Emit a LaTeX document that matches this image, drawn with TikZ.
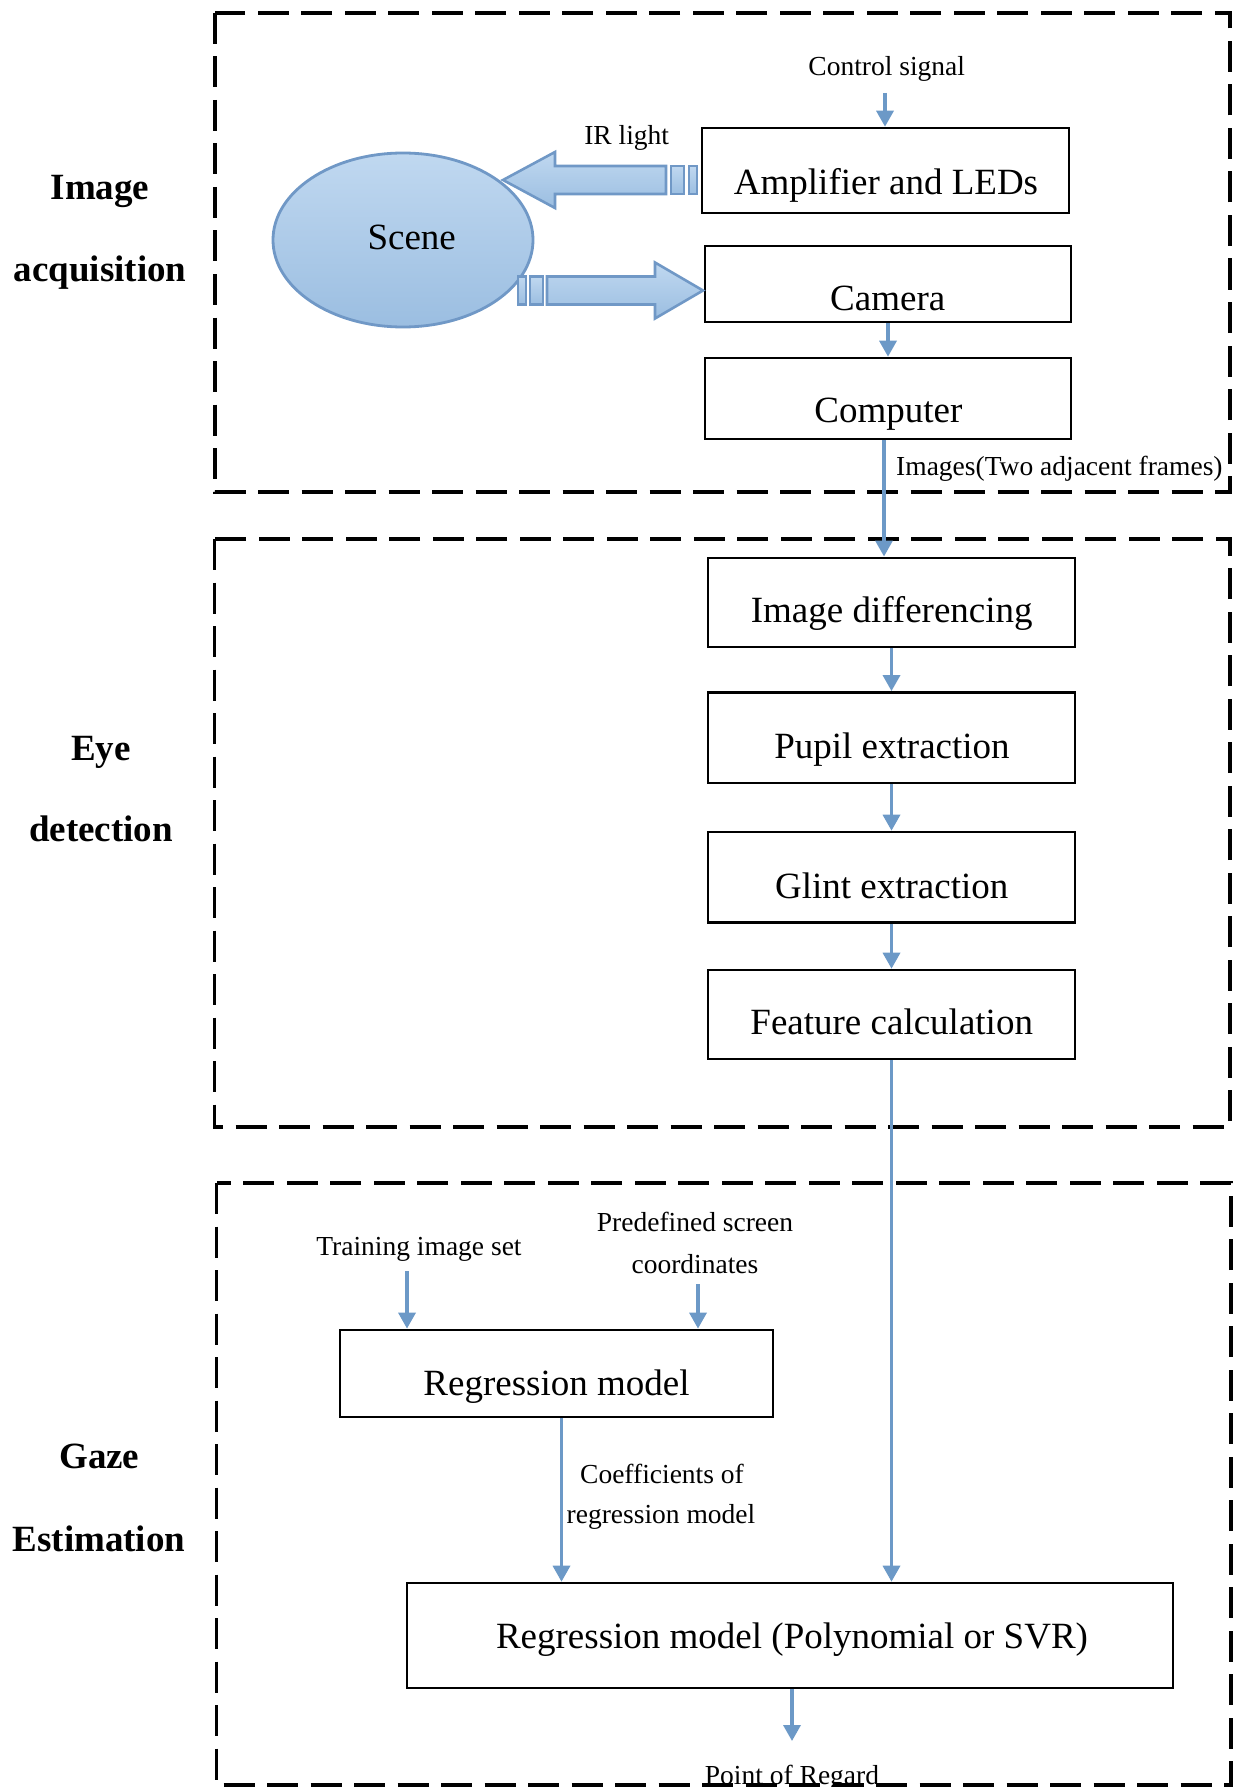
\documentclass[tikz,border=0pt]{standalone}
\usepackage{fontspec}
\setmainfont{Liberation Serif}
\usetikzlibrary{arrows.meta,shapes.geometric}
\definecolor{lineblue}{RGB}{108,153,199}
\definecolor{edgeblue}{RGB}{112,152,198}
\definecolor{filltop}{RGB}{192,216,240}
\definecolor{fillbot}{RGB}{155,190,225}
\tikzset{
  frame/.style={draw=black, line width=3.8pt, dash pattern=on 31pt off 12.5pt},
  procbox/.style={draw=black, line width=2.6pt, inner sep=0pt, fill=white},
  btxt/.style={font=\fontsize{37}{44}\selectfont, anchor=base, inner sep=0pt},
  stxt/.style={font=\fontsize{27.5}{33}\selectfont, anchor=base, inner sep=0pt},
  sec/.style={font=\fontsize{37}{44}\selectfont\bfseries, anchor=base, inner sep=0pt},
  conn/.style={draw=lineblue, line width=3.4pt, -{Triangle[width=17pt,length=16pt]}},
  blockarrow/.style={draw=edgeblue, line width=2.6pt, top color=filltop, bottom color=fillbot, line join=miter},
}
\begin{document}
\begin{tikzpicture}[x=1pt,y=-1pt]
\useasboundingbox (0,0) rectangle (1239,1787);
\fill[white] (0,0) rectangle (1239,1787);

% section frames
\draw[frame] (215,13) rectangle (1230,492);
\draw[frame] (214.5,539) rectangle (1230,1127);
\draw[frame] (216.5,1183) rectangle (1231,1785);

% section labels
\node[sec] (s1a) at (100,199.3) {Image};
\node[sec] (s1b) at (100,281.7) {acquisition};
\node[sec] (s2a) at (101,760) {Eye};
\node[sec] (s2b) at (101,841.7) {detection};
\node[sec] (s3a) at (99.3,1468.3) {Gaze};
\node[sec] (s3b) at (99,1551.7) {Estimation};

% scene
\node[ellipse, draw=edgeblue, line width=2.8pt, top color=filltop, bottom color=fillbot,
      minimum width=260pt, minimum height=174pt, inner sep=0pt] (scene) at (403,240) {};
\node[btxt] (sceneT) at (411.7,250) {Scene};

% boxes
\node[procbox, minimum width=367pt, minimum height=85pt] (amp) at (885.5,170.5) {};
\node[procbox, minimum width=366pt, minimum height=76pt] (cam) at (888,284) {};
\node[procbox, minimum width=366pt, minimum height=81pt] (comp) at (888,398.5) {};
\node[procbox, minimum width=367pt, minimum height=89pt] (diff) at (891.5,602.3) {};
\node[procbox, minimum width=367pt, minimum height=90.6pt] (pupil) at (891.5,737.7) {};
\node[procbox, minimum width=367pt, minimum height=90.5pt] (glint) at (891.5,877.25) {};
\node[procbox, minimum width=367pt, minimum height=89pt] (feat) at (891.5,1014.5) {};
\node[procbox, minimum width=433pt, minimum height=87pt] (reg) at (556.5,1373.4) {};
\node[procbox, minimum width=766pt, minimum height=105pt] (final) at (790,1635.5) {};

\node[btxt] (ampT) at (886,195) {Amplifier and LEDs};
\node[btxt] (camT) at (887.7,310) {Camera};
\node[btxt] (compT) at (888.3,422) {Computer};
\node[btxt] (diffT) at (891.7,622.8) {Image differencing};
\node[btxt] (pupilT) at (892,758.8) {Pupil extraction};
\node[btxt] (glintT) at (891.7,898.5) {Glint extraction};
\node[btxt] (featT) at (891.7,1034.5) {Feature calculation};
\node[btxt] (regT) at (556.5,1395) {Regression model};
\node[btxt] (finalT) at (792,1648) {Regression model (Polynomial or SVR)};

% block arrows
\path[blockarrow] (503,180) -- (555,152) -- (555,166) -- (666,166) -- (666,194) -- (555,194) -- (555,208) -- cycle;
\path[blockarrow] (671,166) rectangle (684,194);
\path[blockarrow] (689,166) rectangle (697,194);
\path[blockarrow] (703,290.5) -- (655,262.5) -- (655,276.5) -- (547,276.5) -- (547,304.5) -- (655,304.5) -- (655,318.5) -- cycle;
\path[blockarrow] (530,276.5) rectangle (543,304.5);
\path[blockarrow] (518,276.5) rectangle (526,304.5);

% small labels
\node[stxt] (ctlT) at (886.7,76) {Control signal};
\node[stxt] (irT) at (626.7,145) {IR light};
\node[stxt, anchor=base west] (imgT) at (896,475.6) {Images(Two adjacent frames)};
\node[stxt] (trainT) at (419,1255) {Training image set};
\node[stxt] (predT1) at (695,1231.7) {Predefined screen};
\node[stxt] (predT2) at (695,1273.3) {coordinates};
\node[stxt] (coefT1) at (662,1483.3) {Coefficients of};
\node[stxt] (coefT2) at (661,1523.3) {regression model};
\node[stxt] (porT) at (792,1784) {Point of Regard};

% free ends
\coordinate (ctl) at (885,93);
\coordinate (train) at (407,1271);
\coordinate (pred) at (698,1284);
\coordinate (out) at (792,1741);

% connectors
\draw[conn] (ctl) -- (ctl |- amp.north);
\draw[conn] (cam.south) -- (comp.north);
\draw[conn] ([xshift=-4pt]comp.south) -- ([xshift=-4pt]comp.south |- diff.north);
\draw[conn] (diff.south) -- (pupil.north);
\draw[conn] (pupil.south) -- (glint.north);
\draw[conn] (glint.south) -- (feat.north);
\draw[conn] (feat.south) -- (feat.south |- final.north);
\draw[conn] (train) -- (train |- reg.north);
\draw[conn] (pred) -- (pred |- reg.north);
\draw[conn] ([xshift=5pt]reg.south) -- ([xshift=5pt]reg.south |- final.north);
\draw[conn] (final.south -| out) -- (out);
\end{tikzpicture}
\end{document}
